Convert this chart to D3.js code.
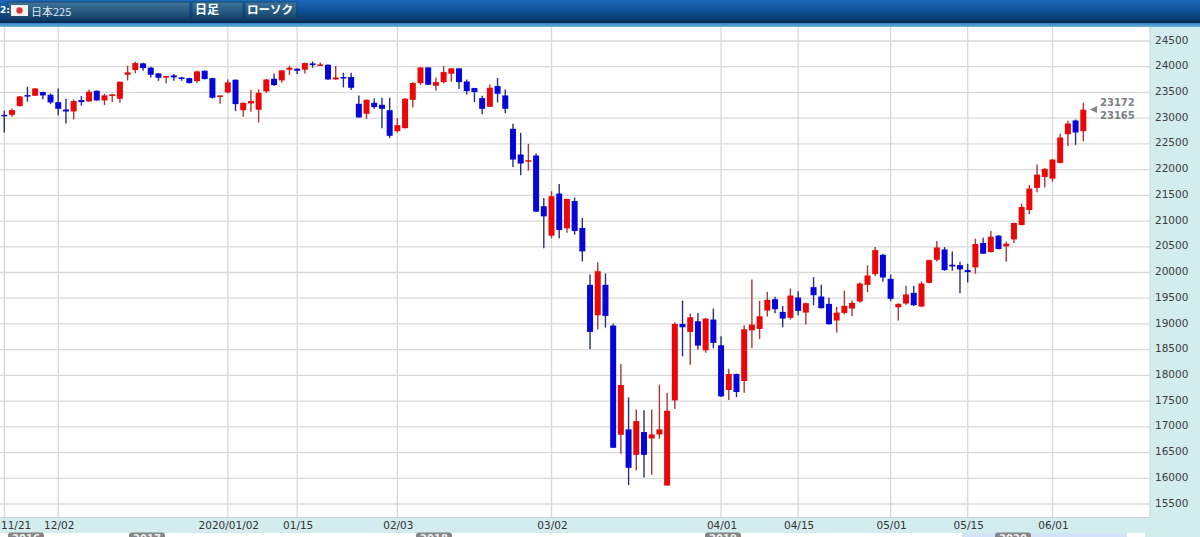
<!DOCTYPE html>
<html><head><meta charset="utf-8">
<script src="https://cdn.jsdelivr.net/npm/d3@7"></script>
<style>html,body{margin:0;padding:0;background:#fff;overflow:hidden}svg{display:block}</style>
</head><body><svg id="c" width="1200" height="537"></svg>
<script>
const open=[23065,23065,23234,23448,23435,23507,23455,23312,23169,23130,23351,23325,23533,23345,23448,23377,23844,23935,24065,23981,23870,23799,23831,23792,23779,23721,23922,23779,23422,23500,23747,23156,23286,23163,23520,23766,23734,23942,23961,23942,24065,24026,24039,23753,23799,23799,23280,23085,23299,23260,23156,22747,22806,23357,23682,23987,23630,23701,23864,23968,23714,23585,23390,23221,23624,23442,22793,22293,22163,22274,21287,20716,21534,20859,21391,20865,19760,19169,19760,18968,16846,16950,16456,16898,16774,16852,15859,17514,19001,18845,19052,18488,19085,18585,17716,18027,17891,18877,18903,19260,19481,19234,19118,19514,19221,19715,19533,19390,19066,19215,19299,19436,19760,19968,20344,19877,19325,19397,19604,19338,19799,20247,20448,20151,20144,20047,20099,20573,20398,20716,20508,20644,20923,21215,21644,21858,21825,22130,22688,22955,22747];
const close=[23052,23156,23422,23435,23578,23442,23306,23182,23130,23332,23312,23513,23345,23442,23461,23708,23890,24071,23974,23844,23786,23818,23792,23760,23682,23909,23760,23396,23442,23695,23273,23299,23332,23494,23753,23643,23929,23981,23922,24071,24032,24045,23753,23792,23786,23591,23014,23357,23215,23182,22657,22864,23377,23682,23987,23650,23701,23896,23968,23701,23526,23507,23182,23591,23474,23182,22196,22118,22183,21183,21092,21482,20826,21430,20807,20411,18845,20026,19156,16593,17813,16203,17112,16456,16852,16950,17313,19001,18936,19130,18579,19104,18631,17592,18027,17677,18897,18988,19150,19468,19286,19105,19552,19254,19403,19559,19306,18994,19221,19351,19410,19786,19942,20435,19903,19488,19390,19572,19364,19786,20240,20487,20046,20118,20060,20008,20553,20365,20696,20456,20560,20962,21274,21631,21903,22014,22195,22624,22896,22721,23165];
const high=[23143,23189,23429,23611,23585,23513,23481,23578,23377,23364,23429,23559,23539,23474,23468,23714,24019,24097,24078,24000,23877,23818,23857,23805,23786,23922,23929,23786,23442,23753,23753,23306,23546,23559,23760,23870,23935,24019,23968,24078,24104,24084,24045,24013,23883,23883,23442,23364,23383,23396,23396,23001,23390,23701,23987,23987,23792,24013,23968,23968,23753,23591,23435,23656,23779,23559,22890,22715,22501,22313,21449,21579,21722,21436,21456,21060,19961,20201,19981,19007,18222,17573,17339,17320,17339,17819,17657,19033,19455,19202,19215,19117,19299,18760,18131,18034,18975,19864,19448,19624,19527,19351,19689,19637,19410,19909,19760,19507,19332,19650,19455,19812,20137,20494,20364,19961,19403,19741,19741,19825,20247,20610,20494,20410,20209,20170,20657,20677,20806,20729,20605,20969,21339,21702,22098,22027,22208,22695,22948,22974,23299];
const low=[22721,23026,23228,23319,23429,23370,23273,23059,22897,22975,23241,23319,23338,23254,23312,23299,23734,23870,23922,23792,23727,23676,23727,23727,23676,23688,23753,23383,23280,23481,23137,23026,23124,22916,23494,23630,23688,23838,23857,23870,23981,24013,23740,23747,23598,23546,23014,22988,23182,22806,22611,22721,22799,23208,23643,23645,23533,23676,23708,23565,23461,23312,23078,23215,23306,23098,22053,21891,21982,21177,20469,20664,20664,20774,20735,20216,18507,18890,18929,16593,16476,15866,16158,16015,16067,16768,15859,17346,18371,18209,18501,18442,18527,17579,17521,17579,17664,18533,18708,19143,19208,18936,19085,19170,18988,19364,19299,18988,18832,19189,19150,19410,19617,19929,19819,19442,19066,19371,19351,19332,19793,20214,20033,20034,19599,19807,19976,20359,20391,20449,20209,20573,20917,21131,21559,21650,21767,22124,22461,22481,22552];
const priceTicks=[24500,24000,23500,23000,22500,22000,21500,21000,20500,20000,19500,19000,18500,18000,17500,17000,16500,16000,15500];
const dateTickIndex=[0,7,29,38,51,71,93,103,115,125,136];
const dateTickLabels=["11/21","12/02","2020/01/02","01/15","02/03","03/02","04/01","04/15","05/01","05/15","06/01"];
const lastValues=[23172,23165];
const yearTabs=["2016","2017","2018","2019","2020"];
const yearTabStart=[8,129,416,705,995];
const headerTexts=["2:","日本225","日足","ローソク"];

const W=1200,H=537,plotL=0,plotR=1150,plotT=27,plotB=517.5;
const svg=d3.select("#c");
const defs=svg.append("defs");
const g1=defs.append("linearGradient").attr("id","hdr").attr("x1",0).attr("x2",0).attr("y1",0).attr("y2",1);
g1.append("stop").attr("offset",0).attr("stop-color","#1b68b8");
g1.append("stop").attr("offset",.5).attr("stop-color","#0f5298");
g1.append("stop").attr("offset",1).attr("stop-color","#083566");
const g2=defs.append("linearGradient").attr("id","btn").attr("x1",0).attr("x2",0).attr("y1",0).attr("y2",1);
g2.append("stop").attr("offset",0).attr("stop-color","#3f7398");
g2.append("stop").attr("offset",.5).attr("stop-color","#2a5c84");
g2.append("stop").attr("offset",1).attr("stop-color","#133f66");
const g3=defs.append("linearGradient").attr("id","strip").attr("x1",0).attr("x2",0).attr("y1",0).attr("y2",1);
g3.append("stop").attr("offset",0).attr("stop-color","#2a80c4");
g3.append("stop").attr("offset",1).attr("stop-color","#6db4de");

const x=d3.scaleLinear().domain([0,140]).range([4.3,1083.3]);
const y=d3.scaleLinear().domain([15500,24500]).range([504,41]);

svg.append("rect").attr("x",0).attr("y",plotT).attr("width",W).attr("height",H-plotT).attr("fill","#d3ecee");
svg.append("rect").attr("x",plotL).attr("y",plotT).attr("width",plotR-plotL).attr("height",plotB-plotT).attr("fill","#fff");

const yAxis=d3.axisRight(y).tickValues(priceTicks).tickFormat(d3.format("d")).tickSize(0);
const gy=svg.append("g").attr("transform",`translate(${plotR},0)`).call(yAxis);
gy.select(".domain").remove();
gy.selectAll("text").attr("x",5).attr("dy","0.2em").attr("font-family","'DejaVu Sans',sans-serif").attr("font-size",10.5).attr("fill","#3c3c3c");
svg.append("g").selectAll("line").data(priceTicks).join("line")
  .attr("x1",plotL).attr("x2",plotR).attr("y1",d=>y(d)).attr("y2",d=>y(d))
  .attr("stroke","#d9d9d9").attr("stroke-width",1.3);
svg.append("g").selectAll("line").data(dateTickIndex).join("line")
  .attr("x1",d=>x(d)).attr("x2",d=>x(d)).attr("y1",plotT).attr("y2",plotB)
  .attr("stroke","#d9d9d9").attr("stroke-width",1.3);
svg.append("line").attr("x1",plotL).attr("x2",plotR).attr("y1",plotB).attr("y2",plotB).attr("stroke","#c9d4d6").attr("stroke-width",1);
svg.append("line").attr("x1",plotR).attr("x2",plotR).attr("y1",plotT).attr("y2",plotB).attr("stroke","#c9d4d6").attr("stroke-width",1);

svg.append("g").selectAll("text").data(dateTickIndex).join("text")
  .attr("x",(d,i)=>i===0?1:x(d)+1).attr("y",529)
  .attr("text-anchor",(d,i)=>i===0?"start":"middle")
  .attr("font-family","'DejaVu Sans',sans-serif").attr("font-size",10.5).attr("fill","#333")
  .text((d,i)=>dateTickLabels[i]);

const idx=d3.range(open.length);
const redC="#e80808",blueC="#0606d8";
const cg=svg.append("g");
cg.selectAll("line").data(idx).join("line")
  .attr("x1",i=>x(i)).attr("x2",i=>x(i)).attr("y1",i=>y(high[i])).attr("y2",i=>y(low[i]))
  .attr("stroke",i=>close[i]>=open[i]?"#a8383a":"#27307f").attr("stroke-width",1.4);
const bw=6;
cg.selectAll("rect").data(idx).join("rect")
  .attr("x",i=>x(i)-bw/2).attr("width",bw)
  .attr("y",i=>y(Math.max(open[i],close[i])))
  .attr("height",i=>Math.max(1.5,Math.abs(y(open[i])-y(close[i]))))
  .attr("fill",i=>close[i]>=open[i]?redC:blueC);

svg.append("path").attr("d","M1090 109.5L1097 106L1097 113Z").attr("fill","#7f878c");
svg.selectAll("text.last").data(lastValues).join("text").attr("class","last")
  .attr("x",1100).attr("y",(d,i)=>[106,119][i])
  .attr("font-family","'DejaVu Sans',sans-serif").attr("font-size",10).attr("font-weight","bold").attr("fill","#7b8085")
  .text(d=>d);

svg.append("rect").attr("x",0).attr("y",533).attr("width",1145).attr("height",4).attr("fill","#fff");
svg.append("rect").attr("x",962).attr("y",533).attr("width",165).attr("height",4).attr("fill","#d2e3f8");
const tabs=svg.append("g").selectAll("g").data(yearTabs).join("g");
tabs.append("rect").attr("x",(d,i)=>yearTabStart[i]).attr("y",532.5).attr("width",36).attr("height",10).attr("rx",3).attr("fill","#858585");
tabs.append("text").attr("x",(d,i)=>yearTabStart[i]+18).attr("y",542).attr("text-anchor","middle")
  .attr("font-family","'DejaVu Sans',sans-serif").attr("font-size",10).attr("font-weight","bold").attr("fill","#eee").text(d=>d);

svg.append("rect").attr("width",W).attr("height",21).attr("fill","url(#hdr)");
svg.append("rect").attr("y",21).attr("width",W).attr("height",2).attr("fill","#0a2a50");
svg.append("rect").attr("y",23).attr("width",W).attr("height",4).attr("fill","url(#strip)");
[[8,182],[192,51],[245,52]].forEach(b=>svg.append("rect").attr("x",b[0]).attr("y",2).attr("width",b[1]).attr("height",17).attr("fill","url(#btn)").attr("stroke","#0b3558").attr("stroke-width",.6));
svg.append("text").attr("x",0).attr("y",13).attr("font-family","'DejaVu Sans',sans-serif").attr("font-size",9).attr("font-weight","bold").attr("fill","#fff").text(headerTexts[0]);
svg.append("rect").attr("x",11).attr("y",5).attr("width",17).attr("height",11).attr("fill","#f4f4f4");
svg.append("circle").attr("cx",19.5).attr("cy",10.5).attr("r",3.2).attr("fill","#d63a3a");
svg.append("text").attr("x",31).attr("y",16).attr("font-family","'Noto Sans CJK JP',sans-serif").attr("font-size",11).attr("fill","#d9e6f0").text(headerTexts[1]);
svg.append("text").attr("x",195).attr("y",14).attr("font-family","'Noto Sans CJK JP',sans-serif").attr("font-size",12).attr("font-weight","bold").attr("fill","#fff").text(headerTexts[2]);
svg.append("text").attr("x",247).attr("y",14).attr("font-family","'Noto Sans CJK JP',sans-serif").attr("font-size",11.5).attr("font-weight","bold").attr("fill","#fff").text(headerTexts[3]);
</script></body></html>
